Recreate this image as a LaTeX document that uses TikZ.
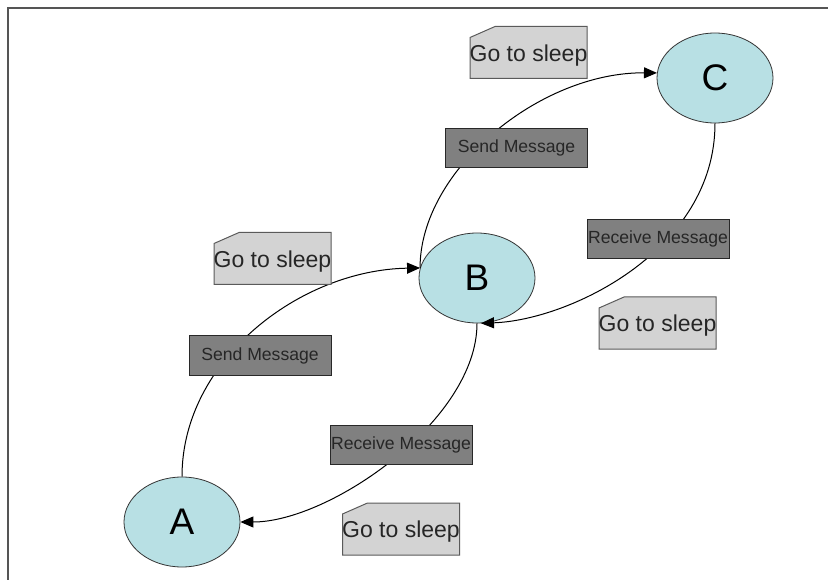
\documentclass[tikz,border=0pt]{standalone}
\usepackage{fontspec}
\setmainfont{Liberation Sans}
\usetikzlibrary{shapes.geometric,arrows.meta}
\definecolor{statefill}{RGB}{184,224,228}
\definecolor{notefill}{RGB}{211,211,211}
\definecolor{noteline}{RGB}{90,90,90}
\definecolor{msgfill}{RGB}{128,128,128}
\definecolor{msgline}{RGB}{40,40,40}
\definecolor{framecol}{RGB}{85,85,85}
\tikzset{
  statenode/.style={ellipse, draw=black!80, line width=0.8pt, fill=statefill,
    minimum width=116pt, minimum height=90pt, inner sep=0pt,
    font=\fontsize{37}{40}\selectfont},
  noteshape/.style={draw=noteline, line width=1pt, fill=notefill},
  notetext/.style={rectangle, text=black!85, yshift=-3pt,
    minimum width=117pt, minimum height=46pt, inner sep=0pt,
    font=\fontsize{23}{26}\selectfont},
  msgnode/.style={rectangle, draw=msgline, line width=1pt, fill=msgfill, text=black!85,
    minimum width=142pt, minimum height=39pt, inner sep=0pt,
    font=\fontsize{17.6}{20}\selectfont},
  conn/.style={line width=1pt, -{Triangle[length=13pt,width=11pt]}}
}
\newcommand\gosleepnote[3]{%
  \begin{scope}[shift={(#2,#3)}]
    \filldraw[noteshape] (-58.5,26) -- (-58.5,-15) -- (-33.5,-26) -- (58.5,-26) -- (58.5,26) -- cycle;
  \end{scope}
  \node[notetext] (#1) at (#2,#3) {Go to sleep};}
\begin{document}
\begin{tikzpicture}[x=1pt,y=-1pt]
\useasboundingbox (0,0) rectangle (828,580);
\draw[framecol, line width=1.4pt] (828,8) -- (8,8) -- (8,580);

\node[statenode] (A) at (182,522) {A};
\node[statenode] (B) at (477,278) {B};
\node[statenode] (C) at (715,78) {C};

\draw[conn] (A.north) .. controls (182,360) and (300,270) .. (B.170);
\draw[conn] (B.170) .. controls (420,170) and (540,72) .. (C.175);
\draw[conn] (C.south) .. controls (715,250) and (570,320) .. (B.-85);
\draw[conn] (B.south) .. controls (477,420) and (330,522) .. (A.east);

\gosleepnote{n1}{528.5}{52.5}
\node[msgnode] (m1) at (516.5,148) {Send Message};
\gosleepnote{n2}{272.5}{258.5}
\node[msgnode] (m2) at (260,355.5) {Send Message};
\node[msgnode] (m3) at (401,445) {Receive Message};
\gosleepnote{n3}{401}{529}
\node[msgnode] (m4) at (658,239) {Receive Message};
\gosleepnote{n4}{657.5}{323}
\end{tikzpicture}
\end{document}
